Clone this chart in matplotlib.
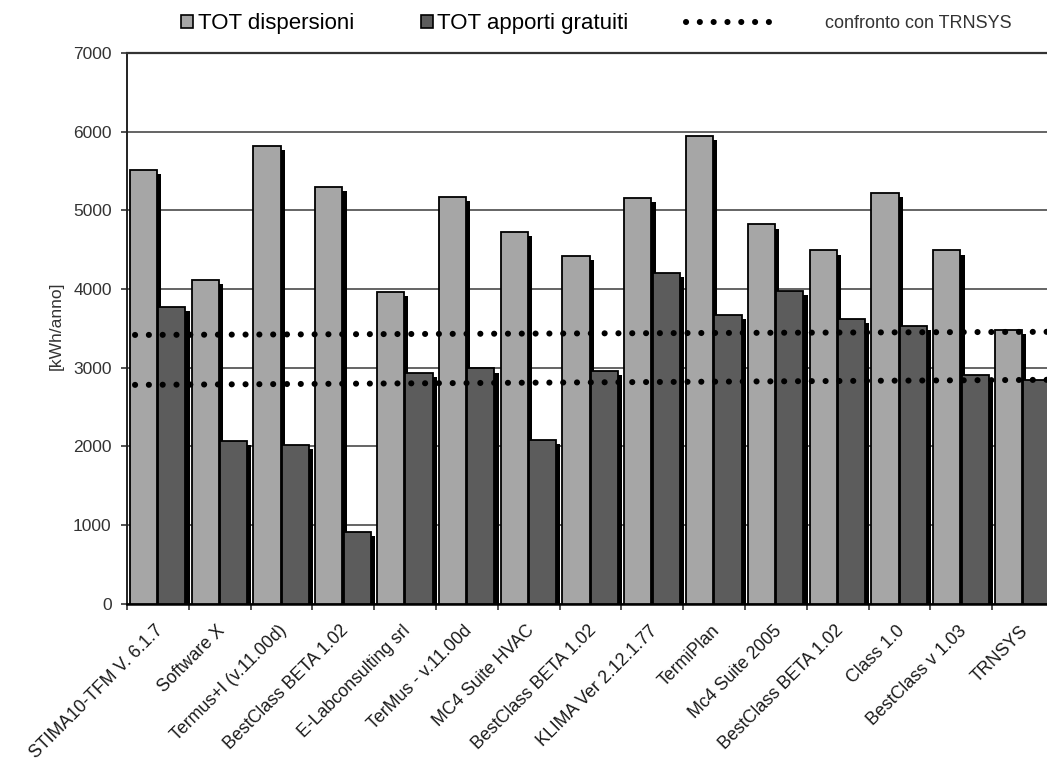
import numpy as np
import matplotlib
matplotlib.use('Agg')
import matplotlib.pyplot as plt
import matplotlib.patheffects as pe
from matplotlib.patches import Patch
from matplotlib.lines import Line2D

plt.rcParams['font.family'] = ['Liberation Sans', 'DejaVu Sans']

# Data
software = ['STIMA10-TFM V. 6.1.7', 'Software X', 'Termus+I (v.11.00d)',
            'BestClass BETA 1.02', 'E-Labconsulting srl', 'TerMus - v.11.00d',
            'MC4 Suite HVAC', 'BestClass BETA 1.02', 'KLIMA Ver 2.12.1.77',
            'TermiPlan', 'Mc4 Suite 2005', 'BestClass BETA 1.02', 'Class 1.0',
            'BestClass v 1.03', 'TRNSYS']
tot_dispersioni = [5510, 4110, 5820, 5300, 3960, 5170, 4720, 4420, 5160,
                   5950, 4820, 4490, 5220, 4490, 3480]
tot_apporti = [3770, 2070, 2020, 910, 2935, 2990, 2080, 2960, 4200,
               3670, 3980, 3620, 3530, 2910, 2845]
# comparison lines (TRNSYS reference), values at left and right end
confronto_disp = [3415, 3455]
confronto_app = [2780, 2845]

light = '#a6a6a6'
dark = '#5c5c5c'

fig = plt.figure(figsize=(10.47, 7.67), dpi=100)
W, H = 1047, 767
ax = fig.add_axes([127 / W, (H - 603.5) / H, 927 / W, 550.5 / H])

x = np.arange(len(software))
bw = 0.44
shadow = [pe.SimplePatchShadow(offset=(3.0, -3.0), shadow_rgbFace='black', alpha=1.0), pe.Normal()]

b1 = ax.bar(x - 0.235, tot_dispersioni, bw, color=light, edgecolor='black', linewidth=1.3, zorder=3)
b2 = ax.bar(x + 0.225, tot_apporti, bw, color=dark, edgecolor='black', linewidth=1.3, zorder=3)
for r in list(b1) + list(b2):
    r.set_path_effects(shadow)

# dotted comparison lines
x_line = [-0.37, 14.55]
dot_style = dict(color='black', lw=4.4, linestyle=(0, (0.01, 2.25)),
                 dash_capstyle='round', zorder=5, clip_on=False)
ax.plot(x_line, confronto_disp, **dot_style)
ax.plot(x_line, confronto_app, **dot_style)

# axes layout
ax.set_xlim(-0.5, len(software) - 0.5)
ax.set_ylim(0, 7000)
ax.set_yticks(np.arange(0, 7001, 1000))
ax.yaxis.grid(True, color='#4a4a4a', linewidth=1.2)
ax.set_axisbelow(True)
ax.tick_params(axis='y', direction='out', length=4, width=1.2, pad=7,
               labelsize=12.5, labelcolor='#333333', color='#333333')

ax.set_xticks(np.arange(-0.5, len(software), 1.0))
ax.set_xticklabels([])
ax.tick_params(axis='x', which='major', direction='out', length=4, width=1.2, color='#333333')
ax.set_xticks(x - 0.05, minor=True)
ax.set_xticklabels(software, minor=True, rotation=45, ha='right',
                   rotation_mode='anchor', fontsize=12.8, color='#1a1a1a')
ax.tick_params(axis='x', which='minor', length=0, pad=13.5)

ax.spines['right'].set_visible(False)
ax.spines['top'].set_color('#333333')
ax.spines['top'].set_linewidth(1.6)
ax.spines['left'].set_color('#222222')
ax.spines['left'].set_linewidth(1.4)
ax.spines['bottom'].set_color('black')
ax.spines['bottom'].set_linewidth(1.8)

ax.set_ylabel('[kWh/anno]', fontsize=12.5, color='#333333')
ax.yaxis.set_label_coords(-0.068, 0.505)

# legend
handles = [Patch(facecolor=light, edgecolor='black', linewidth=1.2),
           Patch(facecolor=dark, edgecolor='black', linewidth=1.2)]
leg1 = fig.legend(handles, ['TOT dispersioni', 'TOT apporti gratuiti'], ncol=2,
                  loc='center left', bbox_to_anchor=(181 / W, 1 - 24 / H),
                  frameon=False, fontsize=16, handlelength=0.55, handleheight=0.55,
                  handletextpad=0.2, columnspacing=3.0, borderpad=0, borderaxespad=0)
dot_handle = Line2D([], [], color='black', lw=4.4, linestyle=(0, (0.01, 2.25)),
                    dash_capstyle='round')
leg2 = fig.legend([dot_handle], ['confronto con TRNSYS'], loc='center left',
                  bbox_to_anchor=(686 / W, 1 - 24 / H), frameon=False, fontsize=13,
                  handlelength=5.2, handletextpad=2.5, borderpad=0, borderaxespad=0,
                  labelcolor='#333333')

plt.savefig('out.png', dpi=100)
